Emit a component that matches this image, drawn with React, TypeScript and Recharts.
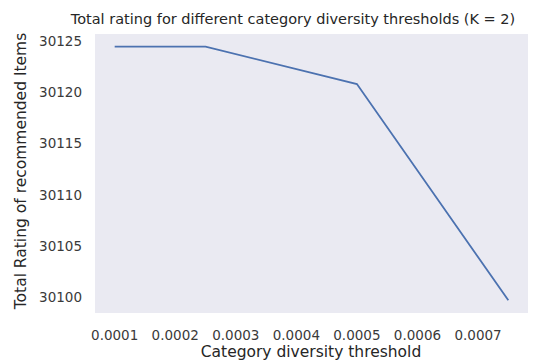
import { LineChart, Line, XAxis, YAxis } from 'recharts'

const thresholds = [0.0001, 0.00025, 0.0005, 0.00075]
const totalRating = [30124.45, 30124.45, 30120.8, 30099.7]
const xTicks = [0.0001, 0.0002, 0.0003, 0.0004, 0.0005, 0.0006, 0.0007]
const yTicks = [30100, 30105, 30110, 30115, 30120, 30125]

const data = thresholds.map((t, i) => ({ t, rating: totalRating[i] }))

const font = '"DejaVu Sans", sans-serif'
const ink = '#262626'
const tickInk = '#3a3a3a'

export default function App() {
  return (
    <div style={{ position: 'absolute', left: 0, top: 0, width: 554, height: 362, background: '#fff', fontFamily: font }}>
      <LineChart width={554} height={362} data={data} margin={{ top: 34, right: 26, bottom: 0, left: 0 }}>
        <rect x={95} y={34} width={433} height={279} fill="#EAEAF2" />
        <text x={293} y={24} textAnchor="middle" fontSize={14.5} fill={ink} fontFamily={font}>
          Total rating for different category diversity thresholds (K = 2)
        </text>
        <text x={311} y={357} textAnchor="middle" fontSize={15.5} fill={ink} fontFamily={font}>
          Category diversity threshold
        </text>
        <text x={0} y={0} transform="translate(21,171) rotate(-90)" textAnchor="middle" dominantBaseline="central"
          fontSize={15.5} fill={ink} fontFamily={font}>
          Total Rating of recommended Items
        </text>
        <XAxis dataKey="t" type="number" domain={[0.0000675, 0.0007825]} ticks={xTicks}
          tickFormatter={(v: number) => v.toFixed(4)} height={49}
          tick={{ fontSize: 13.5, fill: tickInk, fontFamily: font }} tickLine={false} axisLine={false} tickMargin={11} />
        <YAxis type="number" domain={[30098.46, 30125.69]} ticks={yTicks} width={95}
          tick={{ fontSize: 13.5, fill: tickInk, fontFamily: font }} tickLine={false} axisLine={false} tickMargin={7}
          allowDataOverflow />
        <Line dataKey="rating" stroke="#4C72B0" strokeWidth={1.8} dot={false} isAnimationActive={false} />
      </LineChart>
    </div>
  )
}
